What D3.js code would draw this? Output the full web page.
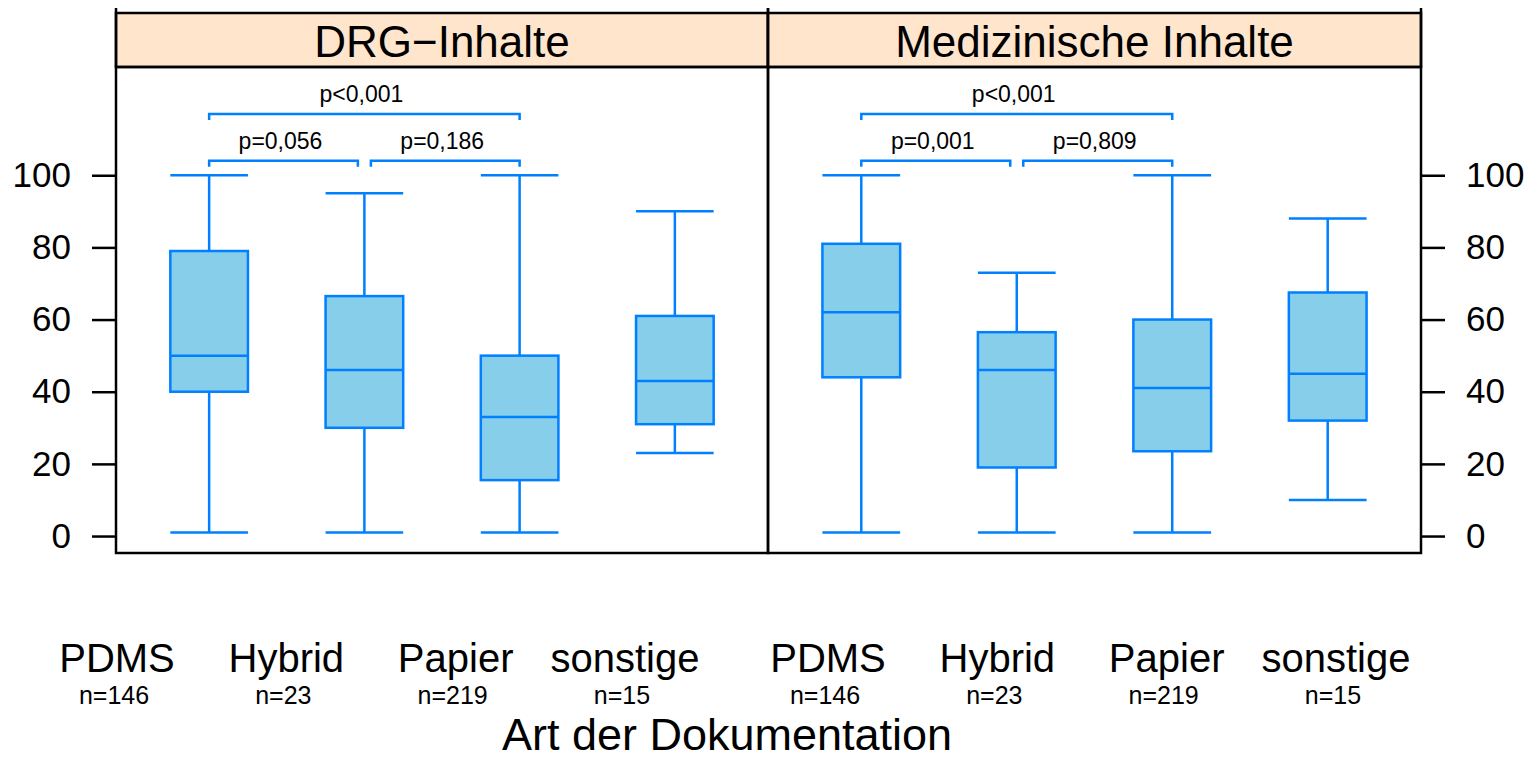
<!DOCTYPE html>
<html>
<head>
<meta charset="utf-8">
<script src="https://cdn.jsdelivr.net/npm/d3@7"></script>
<style>
  body { margin: 0; background: #fff; }
  svg { display: block; font-family: "Liberation Sans", Arial, Helvetica, sans-serif; }
  .frame { fill: none; stroke: #000; stroke-width: 2.5; }
  .axis path { display: none; }
  .axis line { stroke: #000; stroke-width: 2.5; }
  .axis text { font-size: 35px; fill: #000; }
  .box { fill: #87ceeb; stroke: #0080ff; stroke-width: 2.5; }
  .wl { stroke: #0080ff; stroke-width: 2.5; fill: none; }
</style>
</head>
<body>
<div id="chart"></div>
<script>
// data
var categories = ["PDMS", "Hybrid", "Papier", "sonstige"];
var counts = [146, 23, 219, 15];
var panelNames = ["DRG\u2212Inhalte", "Medizinische Inhalte"];

// [lower whisker, Q1, median, Q3, upper whisker]
var drgStats = [[1, 40, 50, 79, 100], [1, 30, 46, 66.5, 95], [1, 15.5, 33, 50, 100], [23, 31, 43, 61, 90]];
var medStats = [[1, 44, 62, 81, 100], [1, 19, 46, 56.5, 73], [1, 23.5, 41, 60, 100], [10, 32, 45, 67.5, 88]];

// significance brackets: from category, to category, height (y units), label
var drgTests = [
    {a: "PDMS", b: "Hybrid", level: 104, label: "p=0,056"},
    {a: "Hybrid", b: "Papier", level: 104, label: "p=0,186"},
    {a: "PDMS", b: "Papier", level: 117, label: "p<0,001"}
];
var medTests = [
    {a: "PDMS", b: "Hybrid", level: 104, label: "p=0,001"},
    {a: "Hybrid", b: "Papier", level: 104, label: "p=0,809"},
    {a: "PDMS", b: "Papier", level: 117, label: "p<0,001"}
];

var yTicks = [0, 20, 40, 60, 80, 100];

var W = 1537, H = 760;
var panelTop = 67, panelBottom = 553, stripTop = 13, frameTop = 8;
var panelX = [[116, 768], [768, 1421]];

var svg = d3.select("#chart").append("svg")
    .attr("width", W)
    .attr("height", H);

var y = d3.scaleLinear().domain([-4.7, 130]).range([panelBottom, panelTop]);

var panels = [
    {name: panelNames[0], stats: drgStats, tests: drgTests},
    {name: panelNames[1], stats: medStats, tests: medTests}
];

panels.forEach(function(p, pi){
    var x0 = panelX[pi][0], x1 = panelX[pi][1];
    var x = d3.scalePoint().domain(categories).range([x0, x1]).padding(0.6);
    var bw = x.step() * 0.5;
    var g = svg.append("g");

    // strip
    g.append("rect")
        .attr("x", x0).attr("y", stripTop)
        .attr("width", x1 - x0).attr("height", panelTop - stripTop)
        .attr("class", "frame")
        .style("fill", "#ffe5cc");
    g.append("text")
        .attr("x", (x0 + x1) / 2).attr("y", 57)
        .attr("text-anchor", "middle")
        .style("font-size", "44px")
        .text(p.name);

    // boxes
    var box = g.selectAll(".bx")
        .data(p.stats)
        .enter().append("g")
        .attr("class", "bx")
        .attr("transform", function(d, i){ return "translate(" + x(categories[i]) + ",0)"; });

    box.append("line").attr("class", "wl")
        .attr("y1", function(d){ return y(d[4]); })
        .attr("y2", function(d){ return y(d[3]); });
    box.append("line").attr("class", "wl")
        .attr("y1", function(d){ return y(d[1]); })
        .attr("y2", function(d){ return y(d[0]); });
    box.append("line").attr("class", "wl")
        .attr("x1", -bw / 2).attr("x2", bw / 2)
        .attr("y1", function(d){ return y(d[4]); })
        .attr("y2", function(d){ return y(d[4]); });
    box.append("line").attr("class", "wl")
        .attr("x1", -bw / 2).attr("x2", bw / 2)
        .attr("y1", function(d){ return y(d[0]); })
        .attr("y2", function(d){ return y(d[0]); });
    box.append("rect").attr("class", "box")
        .attr("x", -bw / 2).attr("width", bw)
        .attr("y", function(d){ return y(d[3]); })
        .attr("height", function(d){ return y(d[1]) - y(d[3]); });
    box.append("line").attr("class", "wl")
        .attr("x1", -bw / 2).attr("x2", bw / 2)
        .attr("y1", function(d){ return y(d[2]); })
        .attr("y2", function(d){ return y(d[2]); });

    // brackets, nudged apart where two at the same level share an end
    p.tests.forEach(function(t){
        var xa = x(t.a), xb = x(t.b);
        p.tests.forEach(function(o){
            if (o === t || o.level !== t.level) return;
            if (o.a === t.b) xb -= 6.5;
            if (o.b === t.a) xa += 6.5;
        });
        var yl = y(t.level);
        g.append("path").attr("class", "wl")
            .attr("d", "M" + xa + "," + (yl + 6) + "V" + yl + "H" + xb + "V" + (yl + 6));
        g.append("text")
            .attr("x", (xa + xb) / 2 - 3).attr("y", yl - 12)
            .attr("text-anchor", "middle")
            .style("font-size", "23px")
            .text(t.label);
    });

    // panel border
    g.append("rect").attr("class", "frame")
        .attr("x", x0).attr("y", panelTop)
        .attr("width", x1 - x0).attr("height", panelBottom - panelTop);
    g.selectAll(".vl").data([x0, x1]).enter().append("line")
        .attr("stroke", "#000").attr("stroke-width", 2.5)
        .attr("x1", function(d){ return d; }).attr("x2", function(d){ return d; })
        .attr("y1", frameTop).attr("y2", panelTop);

    // y axis: left on first panel, right on second
    var ax = pi === 0 ? d3.axisLeft(y) : d3.axisRight(y);
    ax.tickValues(yTicks).tickSize(24).tickPadding(21);
    g.append("g")
        .attr("class", "axis")
        .attr("transform", "translate(" + (pi === 0 ? x0 : x1) + ",0)")
        .call(ax);

    // category labels below
    var lx = d3.scalePoint().domain(categories).range([117 + pi * 711, 625 + pi * 711]);
    g.selectAll(".cat").data(categories).enter().append("text")
        .attr("x", function(d){ return lx(d); }).attr("y", 672)
        .attr("text-anchor", "middle")
        .style("font-size", "40px")
        .text(function(d){ return d; });
    g.selectAll(".cnt").data(counts).enter().append("text")
        .attr("x", function(d, i){ return lx(categories[i]) - 3; }).attr("y", 704)
        .attr("text-anchor", "middle")
        .style("font-size", "25px")
        .text(function(d){ return "n=" + d; });
});

svg.append("text")
    .attr("x", 727).attr("y", 750)
    .attr("text-anchor", "middle")
    .style("font-size", "45px")
    .text("Art der Dokumentation");
</script>
</body>
</html>
